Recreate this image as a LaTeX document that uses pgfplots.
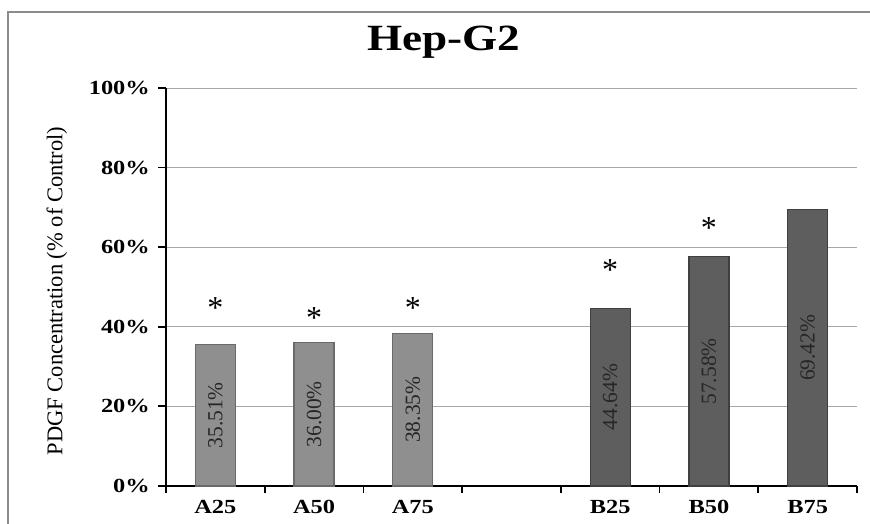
\documentclass[border=0pt]{standalone}
\usepackage{pgfplots}
\pgfplotsset{compat=1.18}
\usepackage{fontspec}
\setmainfont{Liberation Serif}
\newfontfamily\wideserif[FakeStretch=1.22]{Liberation Serif}
\definecolor{barA}{HTML}{8F8F8F}
\definecolor{barAedge}{HTML}{6A6A6A}
\definecolor{barB}{HTML}{5E5E5E}
\definecolor{barBedge}{HTML}{404040}
\definecolor{gridc}{HTML}{A8A8A8}
\definecolor{framec}{HTML}{8C8C8C}
\definecolor{valtext}{HTML}{262626}
\begin{document}
\begin{tikzpicture}[x=1bp,y=1bp]
\useasboundingbox (0,0) rectangle (870,524);
\draw[framec, line width=2bp] (8,-20) -- (8,512) -- (900,512);
\begin{axis}[
  at={(166bp,38bp)}, anchor=south west,
  scale only axis, width=691bp, height=398bp,
  xmin=-0.5, xmax=6.5, ymin=0, ymax=100,
  axis x line*=bottom, axis y line*=left,
  axis line style={line width=1.8bp, black},
  xtick={0,1,2,4,5,6},
  xticklabels={A25,A50,A75,B25,B50,B75},
  major x tick style={draw=none},
  minor xtick={-0.5,0.5,1.5,2.5,3.5,4.5,5.5,6.5},
  minor x tick style={line width=1.8bp, black},
  minor tick length=7bp,
  ytick={0,20,40,60,80,100},
  yticklabels={0\%,20\%,40\%,60\%,80\%,100\%},
  major tick length=8bp,
  y tick style={line width=1.8bp, black},
  tick align=outside,
  ymajorgrids, grid style={draw=gridc, line width=0.9bp},
  xticklabel style={font=\wideserif\bfseries\fontsize{20bp}{24bp}\selectfont, anchor=north, inner sep=0pt, yshift=-6bp},
  yticklabel style={font=\wideserif\bfseries\fontsize{20bp}{24bp}\selectfont, anchor=east, inner sep=0pt, xshift=-8bp},
  ylabel={PDGF Concentration (\% of Control)},
  ylabel style={font=\fontsize{22.5bp}{26bp}\selectfont, at={(axis description cs:-0.158,0.49)}, anchor=center},
  title={Hep-G2},
  title style={font=\wideserif\bfseries\fontsize{37bp}{42bp}\selectfont, at={(axis description cs:0.402,1.08)}, anchor=base, inner sep=0pt},
  clip=false,
]
\addplot[ybar, bar width=0.405, bar shift=0pt, fill=barA, draw=barAedge, line width=1.2bp]
  coordinates {(0,35.51) (1,36.00) (2,38.35)};
\addplot[ybar, bar width=0.405, bar shift=0pt, fill=barB, draw=barBedge, line width=1.2bp]
  coordinates {(4,44.64) (5,57.58) (6,69.42)};
\addplot[draw=none, mark=none, nodes near coords, point meta=explicit symbolic,
  nodes near coords style={rotate=90, anchor=center, inner sep=0pt, text=valtext, font=\fontsize{21.5bp}{24bp}\selectfont}]
  coordinates {(0,17.755)[35.51\%] (1,18.00)[36.00\%] (2,19.175)[38.35\%] (4,22.32)[44.64\%] (5,28.79)[57.58\%] (6,34.71)[69.42\%]};
\addplot[draw=none, mark=none, nodes near coords, point meta=explicit symbolic,
  nodes near coords style={anchor=center, inner sep=0pt, yshift=-5bp, text=black, font=\fontsize{32bp}{34bp}\selectfont}]
  coordinates {(0,46.0)[*] (1,43.5)[*] (2,46.0)[*] (4,55.5)[*] (5,66.1)[*]};
\end{axis}
\end{tikzpicture}
\end{document}
